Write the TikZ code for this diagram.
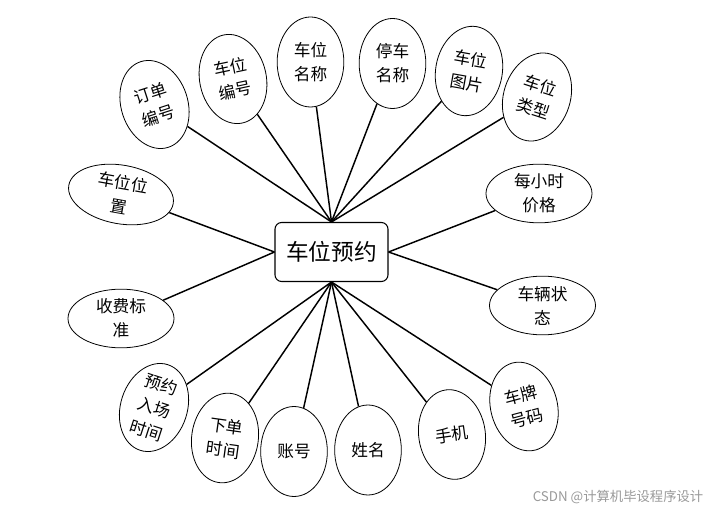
\documentclass[tikz,border=0pt]{standalone}
\usepackage{fontspec}
\newfontfamily\cjk{Noto Sans CJK SC}
\usetikzlibrary{shapes.geometric}
\tikzset{
  attr/.style={ellipse,draw,line width=0.6pt,inner sep=0pt,align=center,
    font=\cjk\fontsize{12.5pt}{18pt}\selectfont},
  vatt/.style={attr,minimum width=50pt,minimum height=67.5pt},
  hatt/.style={attr,minimum width=79.5pt,minimum height=44pt},
  hub/.style={draw,line width=0.8pt,rounded corners=5pt,minimum width=84.75pt,
    minimum height=44.25pt,font=\cjk\fontsize{17pt}{20pt}\selectfont},
  link/.style={line width=1.1pt}
}
\begin{document}
\begin{tikzpicture}[x=0.75pt,y=-0.75pt]
\useasboundingbox (0,0) rectangle (714,509);
\node[hub] (c) at (331.5,252) {车位预约};
\node[vatt,rotate=18] (e1) at (154.5,104.5) {订单\\编号};
\node[vatt,rotate=12] (e2) at (233,79) {车位\\编号};
\node[vatt] (e3) at (310.5,62) {车位\\名称};
\node[vatt] (e4) at (392.5,63.5) {停车\\名称};
\node[vatt,rotate=-10] (e5) at (469,71) {车位\\图片};
\node[vatt,rotate=-18] (e6) at (537,97) {车位\\类型};
\node[hatt,rotate=-10] (e7) at (121,194.5) {车位位\\置};
\node[hatt] (e8) at (539,193.5) {每小时\\价格};
\node[hatt] (e9) at (121,318.5) {收费标\\准};
\node[hatt] (e10) at (542.5,305.5) {车辆状\\态};
\node[vatt,rotate=-18] (e11) at (154,407.5) {预约\\入场\\时间};
\node[vatt,rotate=-8] (e12) at (225,438) {下单\\时间};
\node[vatt] (e13) at (294,451.5) {账号};
\node[vatt] (e14) at (368,450) {姓名};
\node[vatt,rotate=8] (e15) at (452,434.5) {手机};
\node[vatt,rotate=15] (e16) at (524,406.5) {车牌\\号码};
\foreach \e in {e1,e2,e3,e4,e5,e6} \draw[link] (\e) -- (c.north);
\foreach \e in {e11,e12,e13,e14,e15,e16} \draw[link] (\e) -- (c.south);
\foreach \e in {e7,e9} \draw[link] (\e) -- (c.west);
\foreach \e in {e8,e10} \draw[link] (\e) -- (c.east);
\node[font=\cjk\fontsize{10pt}{12pt}\selectfont,text=black!40] (wm) at (618,497) {CSDN @计算机毕设程序设计};
\end{tikzpicture}
\end{document}
